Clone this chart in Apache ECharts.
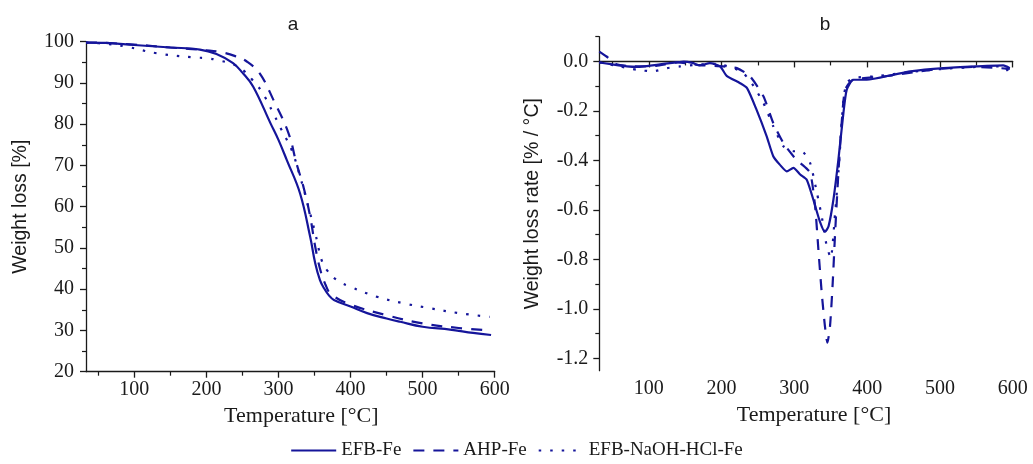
<!DOCTYPE html>
<html>
<head>
<meta charset="utf-8">
<script src="https://cdn.jsdelivr.net/npm/echarts@6/dist/echarts.min.js"></script>
<style>
    html, body { margin: 0; padding: 0; background: #fff; }
    #chart { width: 1033px; height: 464px; }
</style>
</head>
<body>
<div id="chart"></div>
<script>
// series names
const seriesNames = ['EFB-Fe', 'AHP-Fe', 'EFB-NaOH-HCl-Fe'];

// panel a: TGA weight loss [%]
const tA_efb = [33, 60, 100, 150, 191, 214, 237, 250, 265, 289, 300, 311.6, 330, 344, 351, 357.6, 363, 370, 377, 400, 423, 450, 469, 500, 538, 570, 595];
const wA_efb = [99.8, 99.7, 99.2, 98.6, 98.1, 97.0, 94.8, 92.5, 89.1, 80.2, 76.2, 71.3, 63.2, 52.7, 46.3, 42.2, 40.3, 38.5, 37.4, 35.8, 34.2, 32.9, 32.1, 30.9, 30.2, 29.4, 28.9];

const tA_ahp = [33, 60, 100, 150, 200, 219, 240, 256, 274, 293, 314, 325, 334.7, 344, 351, 358, 365, 372, 395, 450, 500, 550, 595];
const wA_ahp = [99.8, 99.7, 99.3, 98.6, 97.9, 97.5, 96.5, 95.2, 92.3, 85.9, 77.8, 70.5, 64.8, 57.6, 50.3, 44.7, 41.2, 39.0, 36.6, 33.7, 31.7, 30.6, 30.0];

const tA_naoh = [33, 60, 89, 131, 182, 200.4, 214, 237, 251, 265, 276.8, 293, 302, 318.4, 330, 341.5, 351, 360, 367, 381, 399.6, 436, 473, 510, 550, 593];
const wA_naoh = [99.8, 99.5, 98.8, 97.2, 96.2, 96.0, 95.6, 94.5, 93.1, 90.5, 87.9, 82.6, 79.4, 73.7, 67.3, 60.0, 53.6, 47.0, 44.7, 42.2, 40.6, 38.2, 36.6, 35.4, 34.2, 33.3];

// panel b: DTG weight loss rate [%/°C]
const tB_efb = [32, 50, 70, 85, 102, 120, 138, 148, 160, 170, 184, 198, 207, 225, 235, 248, 262, 271, 280, 289.6, 298.7, 308, 317, 326, 335, 342, 347, 353.7, 360.5, 367.4, 372, 381, 399.5, 436, 459, 505, 550.5, 587, 596];
const rB_efb = [-0.004, -0.012, -0.02, -0.022, -0.017, -0.01, -0.004, -0.001, -0.006, -0.016, -0.007, -0.02, -0.058, -0.087, -0.108, -0.195, -0.303, -0.383, -0.417, -0.444, -0.43, -0.457, -0.478, -0.558, -0.646, -0.689, -0.666, -0.558, -0.397, -0.209, -0.114, -0.074, -0.074, -0.054, -0.04, -0.027, -0.02, -0.016, -0.027];

const tB_ahp = [32, 42, 55, 80, 110, 140, 170, 202, 221, 239, 257.5, 271, 285, 298.7, 308, 321.6, 328.5, 333, 337.6, 342, 345.4, 349, 352.7, 356, 360.5, 365, 369.7, 381, 420, 460, 500, 550, 596];
const rB_ahp = [0.04, 0.02, -0.01, -0.02, -0.018, -0.004, -0.015, -0.02, -0.027, -0.06, -0.141, -0.249, -0.33, -0.383, -0.41, -0.45, -0.585, -0.76, -0.935, -1.07, -1.137, -1.07, -0.895, -0.693, -0.45, -0.249, -0.114, -0.074, -0.062, -0.045, -0.03, -0.022, -0.03];

const tB_naoh = [32, 60, 83.5, 106, 125, 143, 166, 193, 216, 230, 244, 257.5, 271, 285, 298.7, 310, 321.6, 331, 337.6, 344.5, 350, 356, 360.5, 367.4, 372, 381, 413, 460, 505, 550, 588, 596];
const rB_naoh = [-0.004, -0.02, -0.034, -0.04, -0.027, -0.02, -0.013, -0.01, -0.027, -0.047, -0.1, -0.168, -0.262, -0.343, -0.363, -0.363, -0.41, -0.531, -0.626, -0.747, -0.794, -0.612, -0.45, -0.155, -0.087, -0.067, -0.06, -0.042, -0.03, -0.022, -0.02, -0.055];

// tick labels
const xMajor = [100, 200, 300, 400, 500, 600];
const xMinor = [50, 150, 250, 350, 450, 550];
const yMajorB = [-1.2, -1.0, -0.8, -0.6, -0.4, -0.2, 0.0];
const yMinorB = [-1.1, -0.9, -0.7, -0.5, -0.3, -0.1, 0.1];

const init = () => {
    let myChart = echarts.init(document.getElementById('chart'));
    const navy = '#15159a';
    const ink = '#1a1a1a';
    const serif = '"Liberation Serif", "Times New Roman", serif';
    const sans = '"Liberation Sans", Arial, sans-serif';
    const zip = (xs, ys) => xs.map((x, i) => [x, ys[i]]);
    const lineTypes = ['solid', [11, 9], [2.5, 9]];

    let grid = [
        { left: 86, top: 41.7, width: 408.7, height: 330 },
        { left: 599.3, top: 36.7, width: 413.4, height: 334 }
    ];

    const axisLine = { show: true, lineStyle: { color: ink, width: 1.3 } };
    // major + minor x axes per grid (both at the bottom)
    const mkX = (g, min, shift) => [
        {
            type: 'value', gridIndex: g, min: min, max: 600, position: 'bottom', offset: 0,
            axisLine: axisLine,
            axisTick: { show: true, customValues: xMajor, length: 6, lineStyle: { color: ink, width: 1.3 } },
            axisLabel: { customValues: xMajor, color: ink, fontFamily: serif, fontSize: 20, margin: 8 },
            splitLine: { show: false },
            name: 'Temperature [°C]', nameLocation: 'middle', nameGap: 34,
            nameTextStyle: { color: ink, fontFamily: serif, fontSize: 22, padding: [0, 0, 0, shift] }
        },
        {
            type: 'value', gridIndex: g, min: min, max: 600, position: 'bottom', offset: 0,
            axisLine: { show: false },
            axisTick: { show: true, customValues: xMinor, length: 4, lineStyle: { color: ink, width: 1.2 } },
            axisLabel: { show: false },
            splitLine: { show: false }
        }
    ];

    let xAxis = [...mkX(0, 33, 22), ...mkX(1, 32, 16)];

    let yAxis = [
        {
            type: 'value', gridIndex: 0, min: 20, max: 100, interval: 10, position: 'left',
            axisLine: axisLine,
            axisTick: { show: true, length: 6, lineStyle: { color: ink, width: 1.3 } },
            minorTick: { show: true, splitNumber: 2, length: 4, lineStyle: { color: ink, width: 1.2 } },
            axisLabel: { color: ink, fontFamily: serif, fontSize: 20, margin: 12 },
            splitLine: { show: false },
            minorSplitLine: { show: false },
            name: 'Weight loss [%]', nameLocation: 'middle', nameGap: 55,
            nameTextStyle: { color: ink, fontFamily: sans, fontSize: 19.5 }
        },
        {
            type: 'value', gridIndex: 1, min: -1.25, max: 0.1, position: 'left', offset: 0,
            axisLine: axisLine,
            axisTick: { show: true, customValues: yMajorB, length: 6, lineStyle: { color: ink, width: 1.3 } },
            axisLabel: {
                customValues: yMajorB, color: ink, fontFamily: serif, fontSize: 20, margin: 11,
                formatter: v => v.toFixed(1)
            },
            splitLine: { show: false },
            name: 'Weight loss rate [% / °C]', nameLocation: 'middle', nameGap: 57,
            nameTextStyle: { color: ink, fontFamily: sans, fontSize: 19.5 }
        },
        {
            type: 'value', gridIndex: 1, min: -1.25, max: 0.1, position: 'left', offset: 0,
            axisLine: { show: false },
            axisTick: { show: true, customValues: yMinorB, length: 4, lineStyle: { color: ink, width: 1.2 } },
            axisLabel: { show: false },
            splitLine: { show: false }
        }
    ];

    const mkSeries = (name, k, xi, yi, data, smooth) => ({
        name: name, type: 'line', xAxisIndex: xi, yAxisIndex: yi,
        data: data, showSymbol: false, symbol: 'none', smooth: smooth,
        lineStyle: { color: navy, width: 2.2, type: lineTypes[k] },
        itemStyle: { color: navy },
        z: 3 - k
    });

    let series = [
        mkSeries(seriesNames[0], 0, 0, 0, zip(tA_efb, wA_efb), 0.4),
        mkSeries(seriesNames[1], 1, 0, 0, zip(tA_ahp, wA_ahp), 0.4),
        mkSeries(seriesNames[2], 2, 0, 0, zip(tA_naoh, wA_naoh), 0.4),
        mkSeries(seriesNames[0], 0, 2, 1, zip(tB_efb, rB_efb), 0.2),
        mkSeries(seriesNames[1], 1, 2, 1, zip(tB_ahp, rB_ahp), 0.2),
        mkSeries(seriesNames[2], 2, 2, 1, zip(tB_naoh, rB_naoh), 0.2)
    ];

    const option = {
        animation: false,
        title: [
            { text: 'a', left: 288, top: 10, textAlign: 'center', textStyle: { fontFamily: sans, fontSize: 19, fontWeight: 'normal', color: ink } },
            { text: 'b', left: 820, top: 10, textAlign: 'center', textStyle: { fontFamily: sans, fontSize: 19, fontWeight: 'normal', color: ink } }
        ],
        legend: {
            data: seriesNames,
            left: 'center', top: 436,
            itemWidth: 45, itemHeight: 10, itemGap: 11,
            itemStyle: { opacity: 0 },
            textStyle: { fontFamily: serif, fontSize: 19, color: ink }
        },
        grid,
        xAxis,
        yAxis,
        series
    };
    myChart.setOption(option);
};
init();
</script>
</body>
</html>
